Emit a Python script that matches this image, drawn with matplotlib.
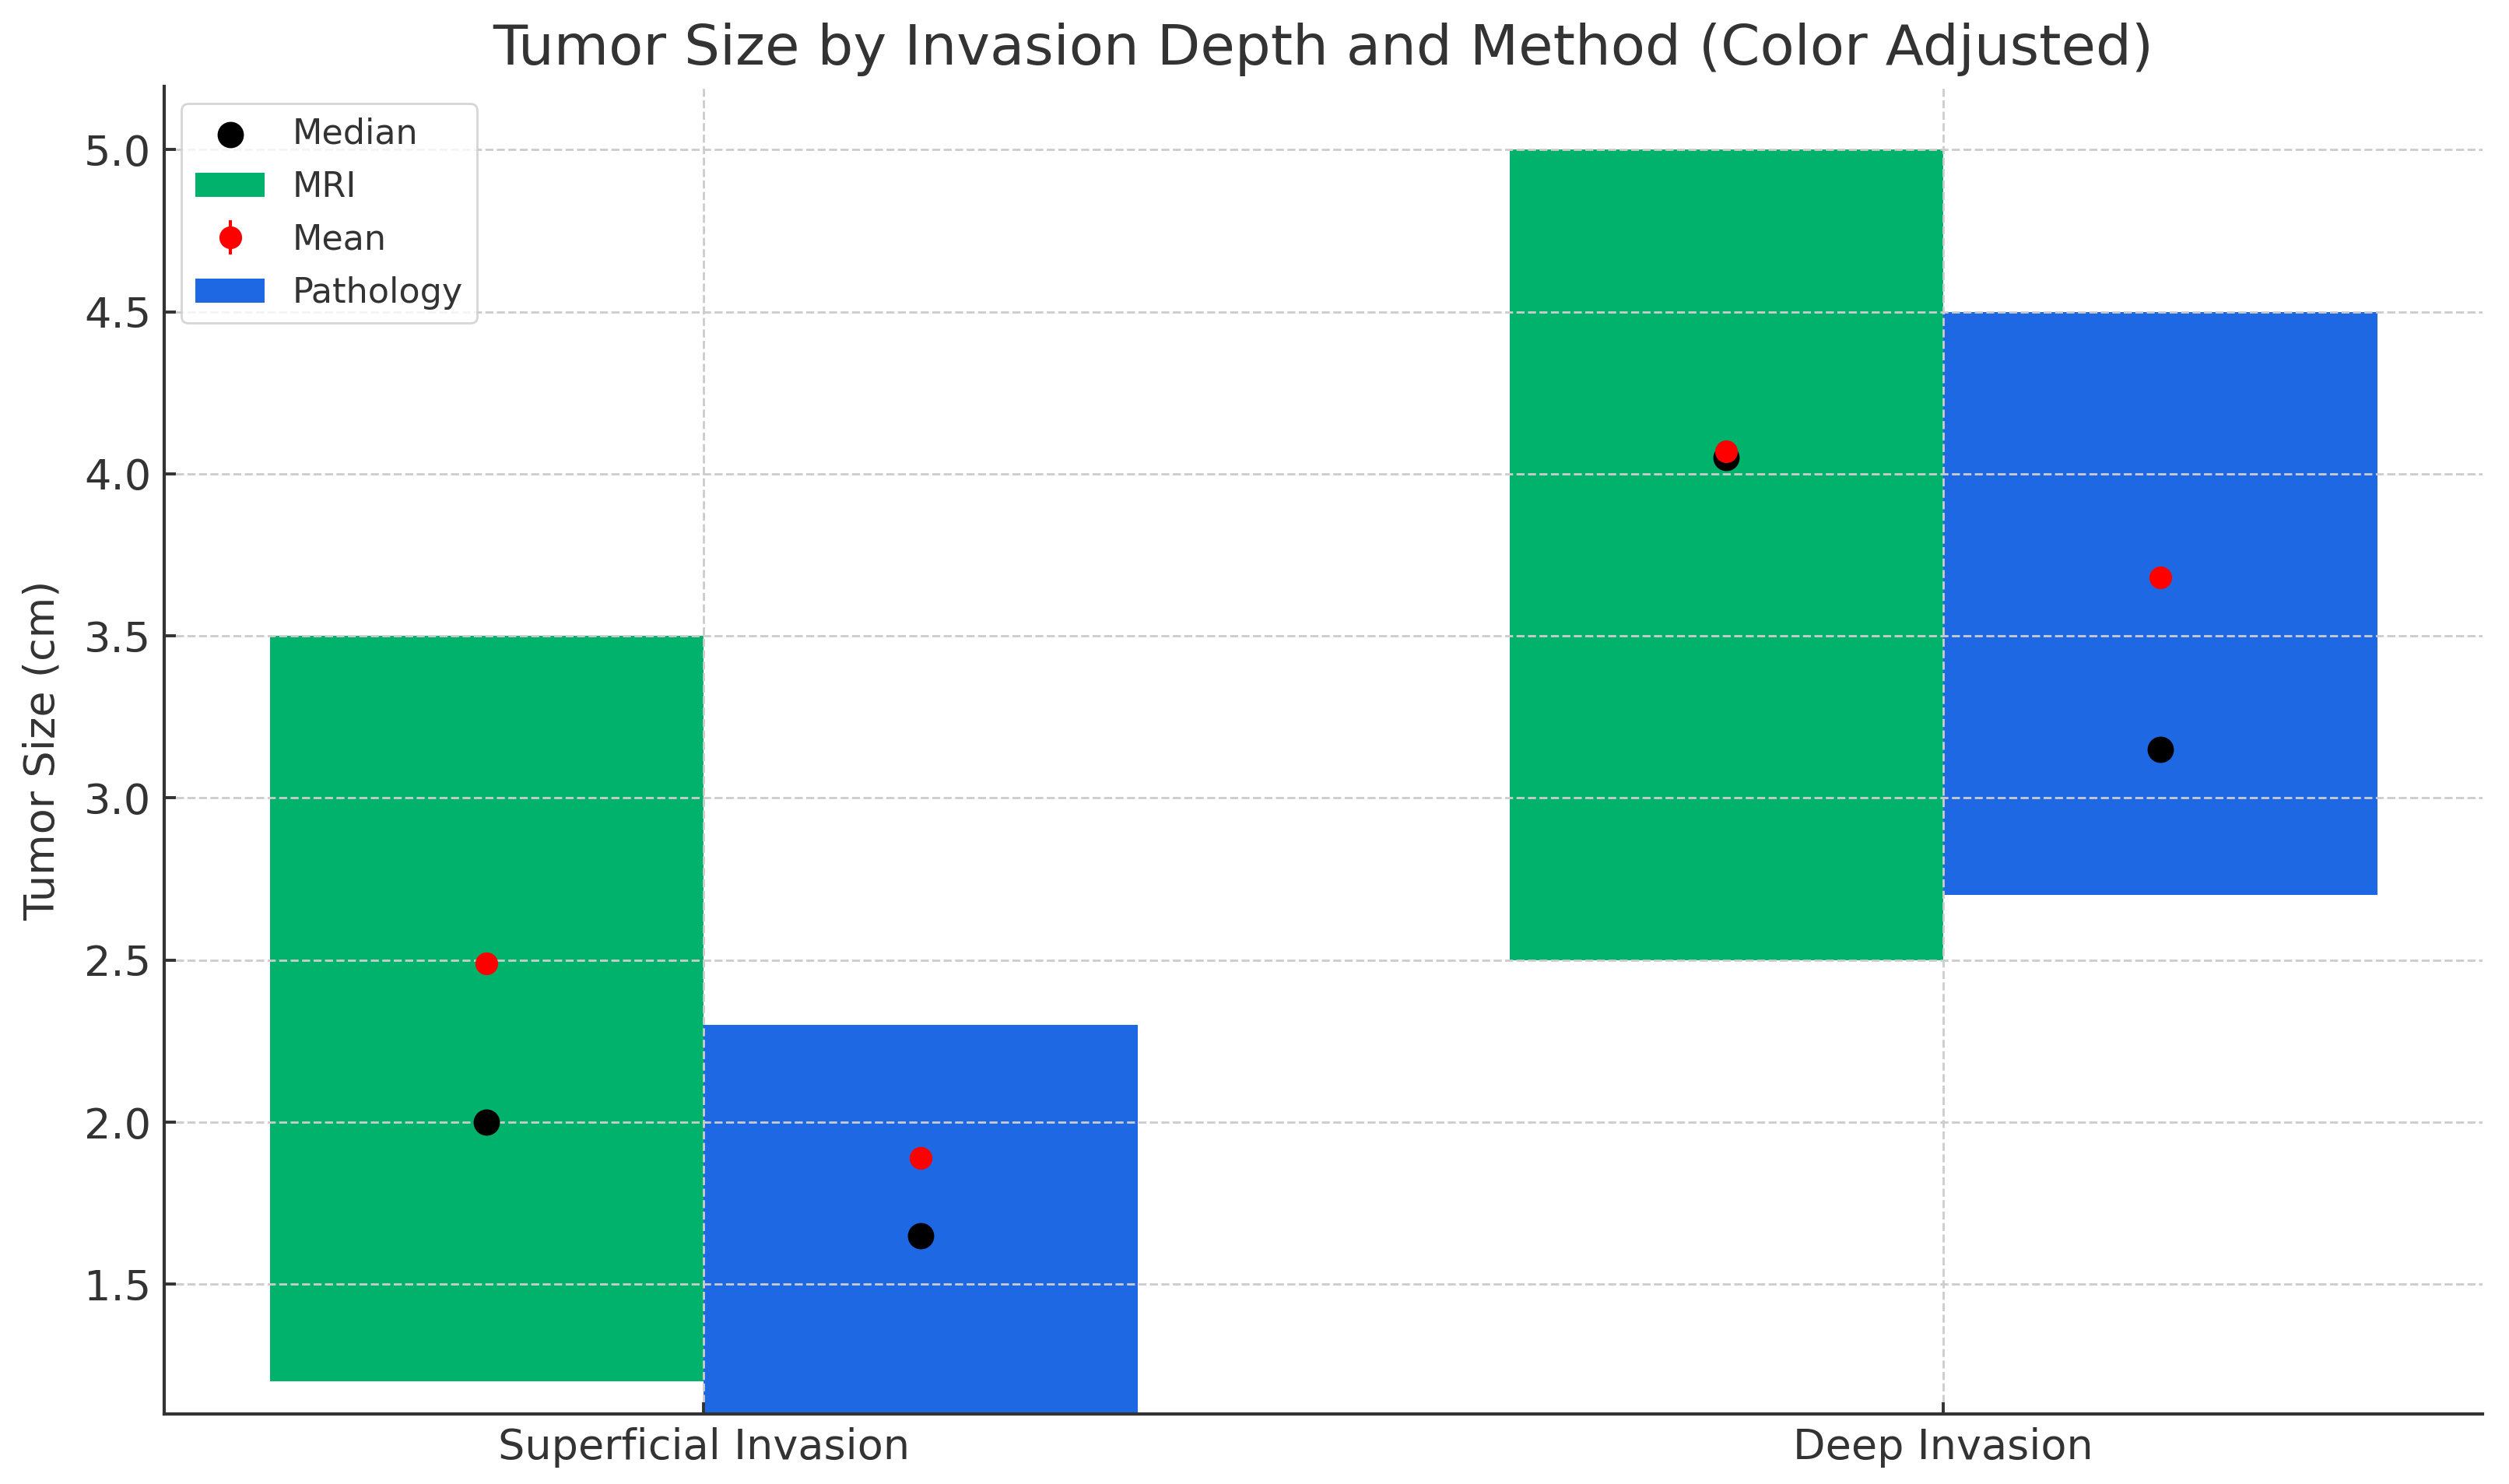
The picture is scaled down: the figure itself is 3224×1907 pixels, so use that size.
import numpy as np
import matplotlib.pyplot as plt

categories = ["Superficial Invasion", "Deep Invasion"]
methods = ["MRI", "Pathology"]
colors = {"MRI": "#00b26b", "Pathology": "#1e69e3"}

# min / max range of tumor size per category
size_min = {"MRI": [1.2, 2.5], "Pathology": [1.1, 2.7]}
size_max = {"MRI": [3.5, 5.0], "Pathology": [2.3, 4.5]}
size_median = {"MRI": [2.0, 4.05], "Pathology": [1.65, 3.15]}
size_mean = {"MRI": [2.49, 4.07], "Pathology": [1.89, 3.68]}
mean_err = {"MRI": [0.0, 0.0], "Pathology": [0.0, 0.0]}

text_col = "#333333"
plt.rcParams["font.family"] = "DejaVu Sans"

fig = plt.figure(figsize=(16.12, 9.535), dpi=200)
ax = fig.add_axes([0.0655, 0.0472, 0.924, 0.8946])

x = np.arange(len(categories))
width = 0.35
handles = {}
for i, m in enumerate(methods):
    pos = x - width / 2 + i * width
    lo = np.array(size_min[m])
    hi = np.array(size_max[m])
    b = ax.bar(pos, hi - lo, width, bottom=lo, color=colors[m], label=m)
    handles[m] = b
    med = ax.scatter(pos, size_median[m], color="black", s=125, zorder=2.5,
                     label="Median")
    mn = ax.errorbar(pos, size_mean[m], yerr=mean_err[m], fmt="o", color="red",
                     markersize=9.5, zorder=3, label="Mean")
    handles["Median"] = med
    handles["Mean"] = mn

ax.set_ylim(1.1, 5.195)
ax.set_xlim(-0.435, 1.435)
ax.set_xticks(x)
ax.set_xticklabels(categories)
ax.set_ylabel("Tumor Size (cm)", fontsize=19.5, color=text_col, labelpad=10)
ax.set_title("Tumor Size by Invasion Depth and Method (Color Adjusted)",
             fontsize=26, color=text_col, pad=10)
ax.tick_params(axis="both", direction="in", length=5.5, width=1.4,
               labelsize=19.5, labelcolor=text_col, color=text_col, pad=6)
ax.grid(True, linestyle="--", color="#cccccc", linewidth=1.0)
for s in ["top", "right"]:
    ax.spines[s].set_visible(False)
for s in ["left", "bottom"]:
    ax.spines[s].set_linewidth(1.5)
    ax.spines[s].set_color(text_col)

order = ["Median", "MRI", "Mean", "Pathology"]
leg = ax.legend([handles[k] for k in order], order, loc="upper left",
                fontsize=16, labelcolor=text_col, labelspacing=0.56)
leg.get_frame().set_edgecolor("#cccccc")

fig.savefig("out.png", dpi=200)
